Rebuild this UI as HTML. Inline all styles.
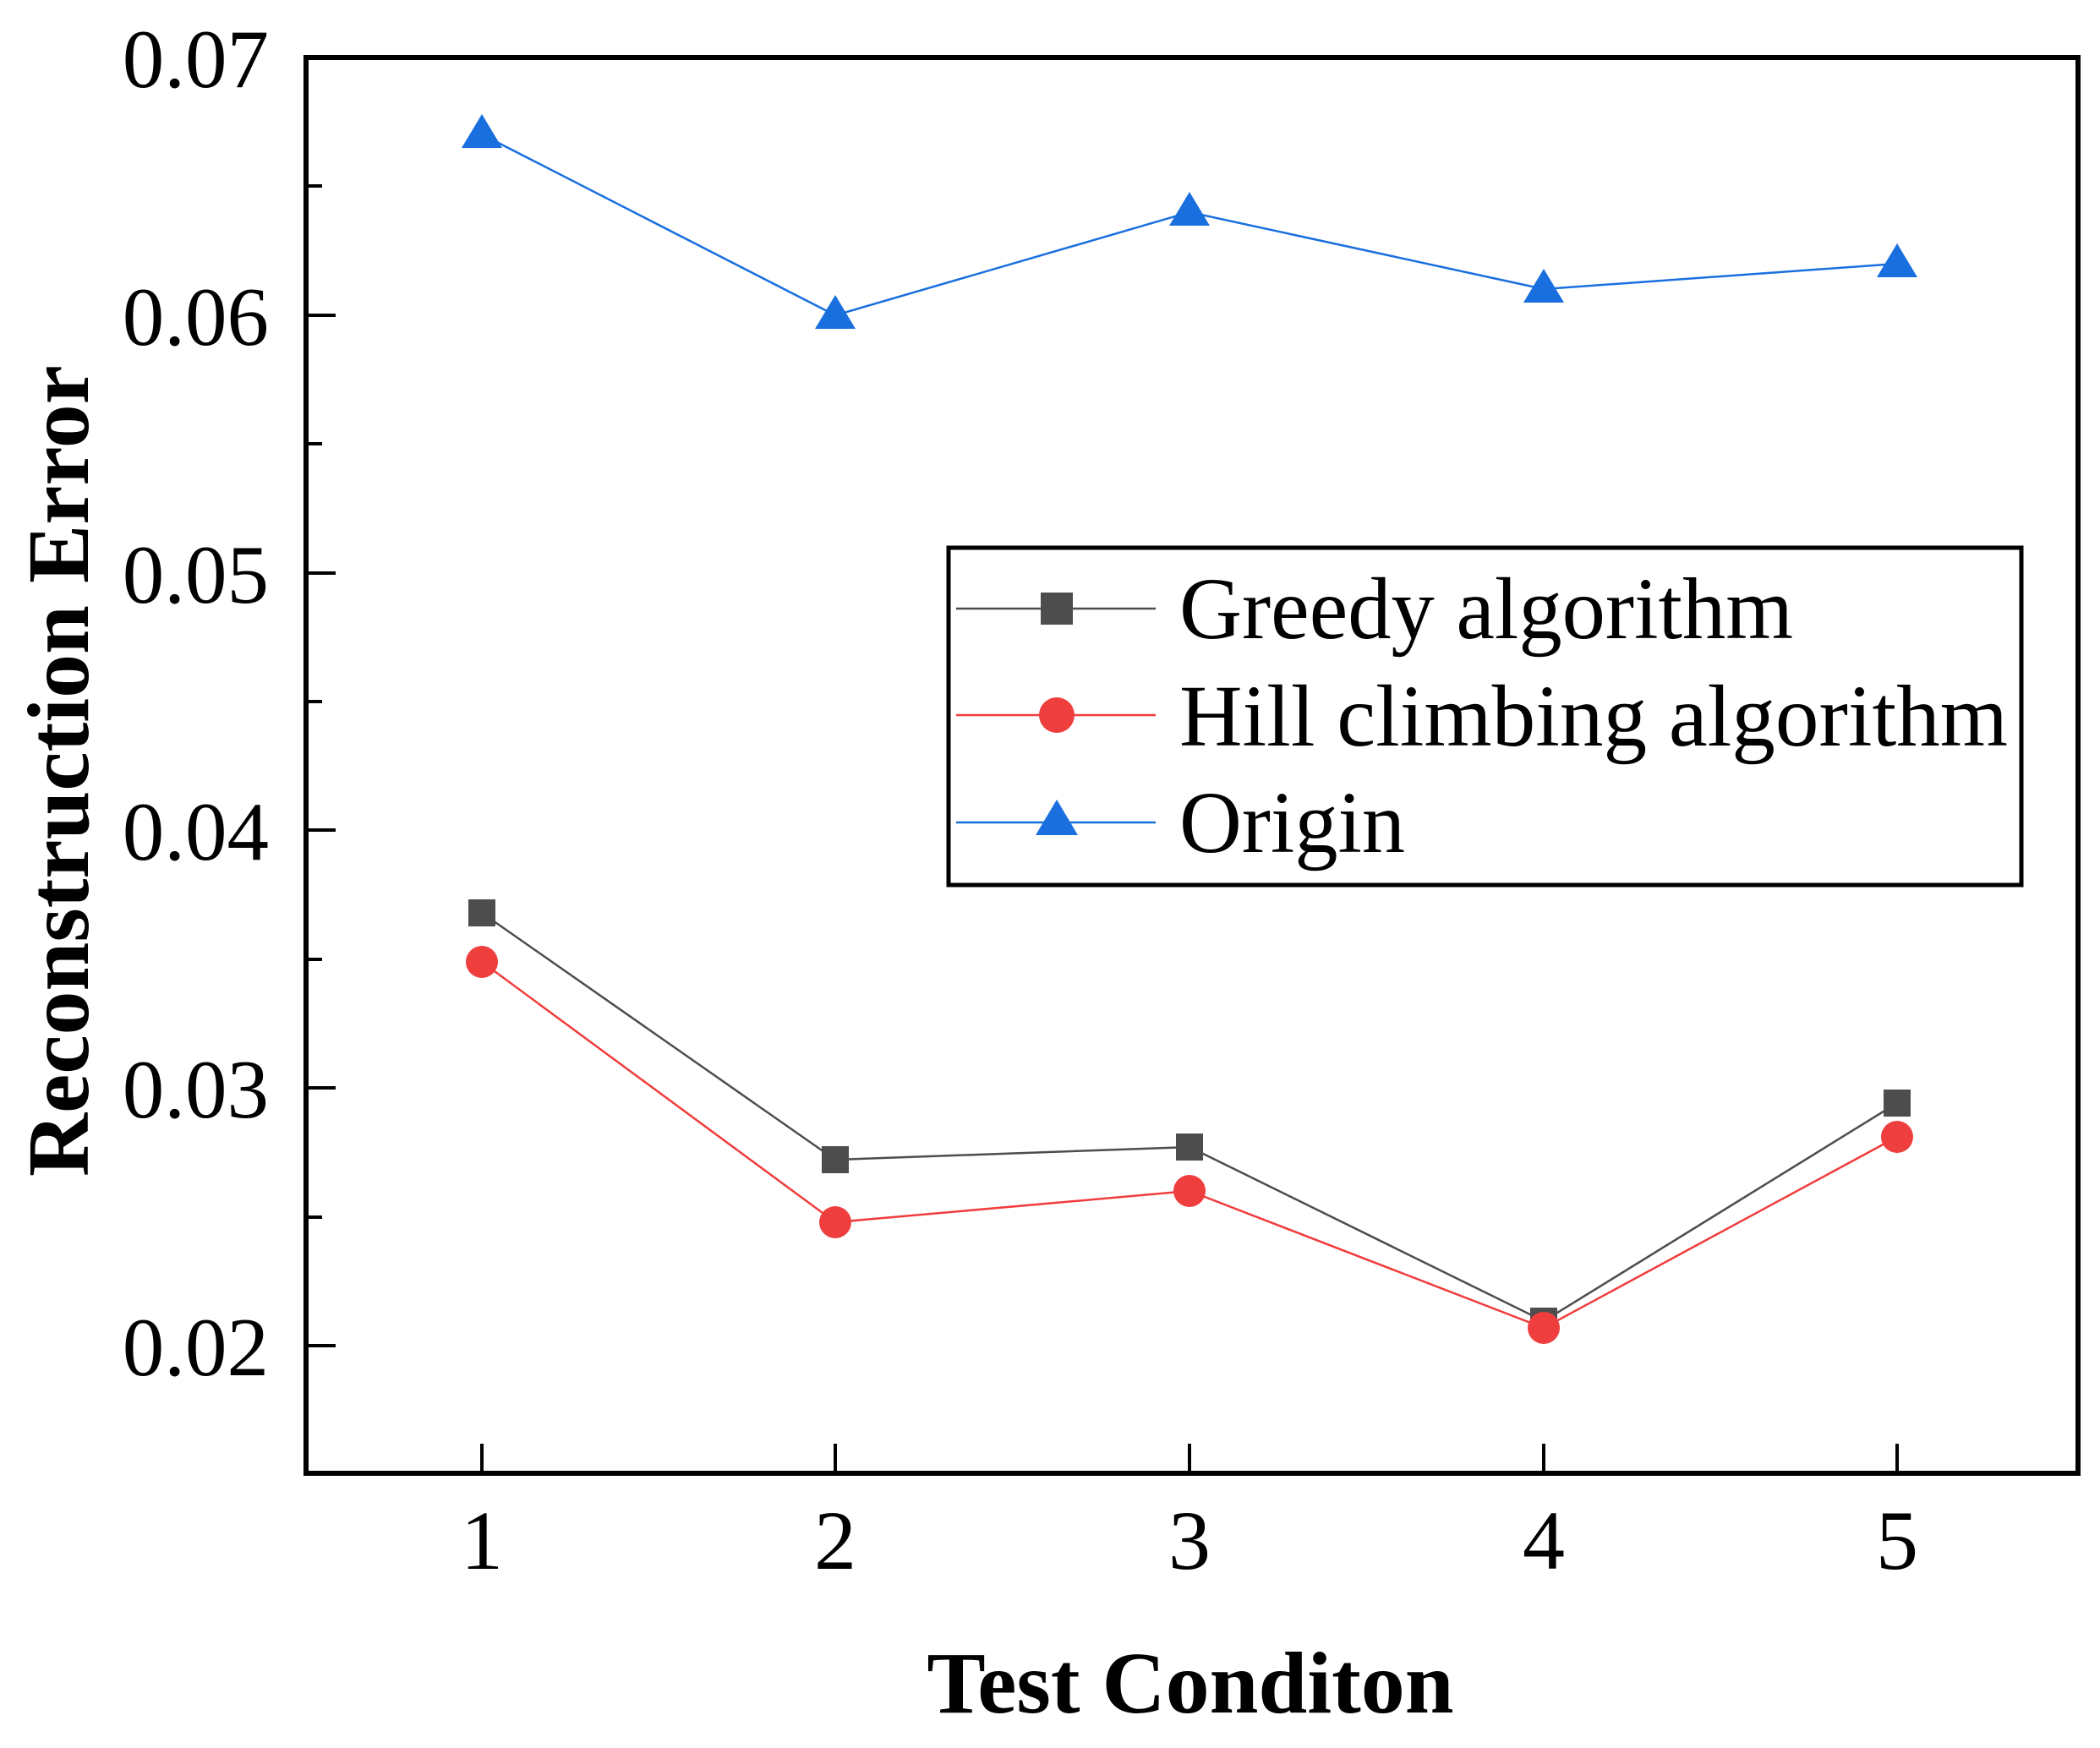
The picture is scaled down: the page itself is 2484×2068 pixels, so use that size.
<!DOCTYPE html>
<html><head><meta charset="utf-8"><style>html,body{margin:0;padding:0;background:#fff}svg{display:block}</style></head>
<body>
<svg width="2484" height="2068" viewBox="0 0 2484 2068" xmlns="http://www.w3.org/2000/svg" font-family="'Liberation Serif', serif">
<rect width="2484" height="2068" fill="#fff"/>
<g stroke="#000" stroke-width="4">
<line x1="362" y1="68" x2="397" y2="68"/><line x1="362" y1="373" x2="397" y2="373"/><line x1="362" y1="678" x2="397" y2="678"/>
<line x1="362" y1="982" x2="397" y2="982"/><line x1="362" y1="1287" x2="397" y2="1287"/><line x1="362" y1="1592" x2="397" y2="1592"/>
<line x1="362" y1="220" x2="381" y2="220"/><line x1="362" y1="525" x2="381" y2="525"/><line x1="362" y1="830" x2="381" y2="830"/>
<line x1="362" y1="1135" x2="381" y2="1135"/><line x1="362" y1="1440" x2="381" y2="1440"/>
<line x1="570" y1="1743" x2="570" y2="1708"/><line x1="988" y1="1743" x2="988" y2="1708"/><line x1="1407" y1="1743" x2="1407" y2="1708"/>
<line x1="1826" y1="1743" x2="1826" y2="1708"/><line x1="2244" y1="1743" x2="2244" y2="1708"/>
</g>
<rect x="362" y="68" width="2096" height="1675" fill="none" stroke="#000" stroke-width="6"/>
<g font-size="99" text-anchor="end" fill="#000">
<text x="318" y="103">0.07</text><text x="318" y="408">0.06</text><text x="318" y="713">0.05</text>
<text x="318" y="1017">0.04</text><text x="318" y="1322">0.03</text><text x="318" y="1627">0.02</text>
</g>
<g font-size="100" text-anchor="middle" fill="#000">
<text x="570" y="1856">1</text><text x="988" y="1856">2</text><text x="1407" y="1856">3</text><text x="1826" y="1856">4</text><text x="2244" y="1856">5</text>
</g>
<text x="1408" y="2026" font-size="104" font-weight="bold" text-anchor="middle">Test Conditon</text>
<text transform="translate(104,912) rotate(-90)" font-size="104" font-weight="bold" text-anchor="middle">Reconstruction Error</text>
<polyline fill="none" stroke="#1a6fdf" stroke-width="2.5" points="570,159 988,373 1407,251 1826,342 2244,312"/>
<polyline fill="none" stroke="#4d4d4d" stroke-width="2.5" points="570,1080 988,1372 1407,1357 1826,1563 2244,1305"/>
<polyline fill="none" stroke="#f03c3c" stroke-width="2.5" points="570,1138 988,1446 1407,1409 1826,1571 2244,1345"/>
<g fill="#1a6fdf">
<polygon points="570,135 546,175 594,175"/><polygon points="988,349 964,389 1012,389"/><polygon points="1407,227 1383,267 1431,267"/>
<polygon points="1826,318 1802,358 1850,358"/><polygon points="2244,288 2220,328 2268,328"/>
</g>
<g fill="#4d4d4d">
<rect x="554" y="1064" width="32" height="32"/><rect x="972" y="1356" width="32" height="32"/><rect x="1391" y="1341" width="32" height="32"/>
<rect x="1810" y="1547" width="32" height="32"/><rect x="2228" y="1289" width="32" height="32"/>
</g>
<g fill="#ef3e3e">
<circle cx="570" cy="1138" r="19"/><circle cx="988" cy="1446" r="19"/><circle cx="1407" cy="1409" r="19"/>
<circle cx="1826" cy="1571" r="19"/><circle cx="2244" cy="1345" r="19"/>
</g>
<rect x="1122" y="648" width="1269" height="399" fill="#fff" stroke="#000" stroke-width="5"/>
<line x1="1131" y1="720" x2="1367" y2="720" stroke="#4d4d4d" stroke-width="2.5"/>
<rect x="1231" y="701" width="38" height="38" fill="#4d4d4d"/>
<line x1="1131" y1="846" x2="1367" y2="846" stroke="#f03c3c" stroke-width="2.5"/>
<ellipse cx="1250" cy="846" rx="21" ry="21" fill="#ef3e3e"/>
<line x1="1131" y1="973" x2="1367" y2="973" stroke="#1a6fdf" stroke-width="2.5"/>
<polygon points="1250,946 1225,988 1275,988" fill="#1a6fdf"/>
<g font-size="104" fill="#000">
<text x="1395" y="755" textLength="726" lengthAdjust="spacingAndGlyphs">Greedy algorithm</text>
<text x="1395" y="882" textLength="980" lengthAdjust="spacingAndGlyphs">Hill climbing algorithm</text>
<text x="1395" y="1008" textLength="267" lengthAdjust="spacingAndGlyphs">Origin</text>
</g>
</svg>
</body></html>
